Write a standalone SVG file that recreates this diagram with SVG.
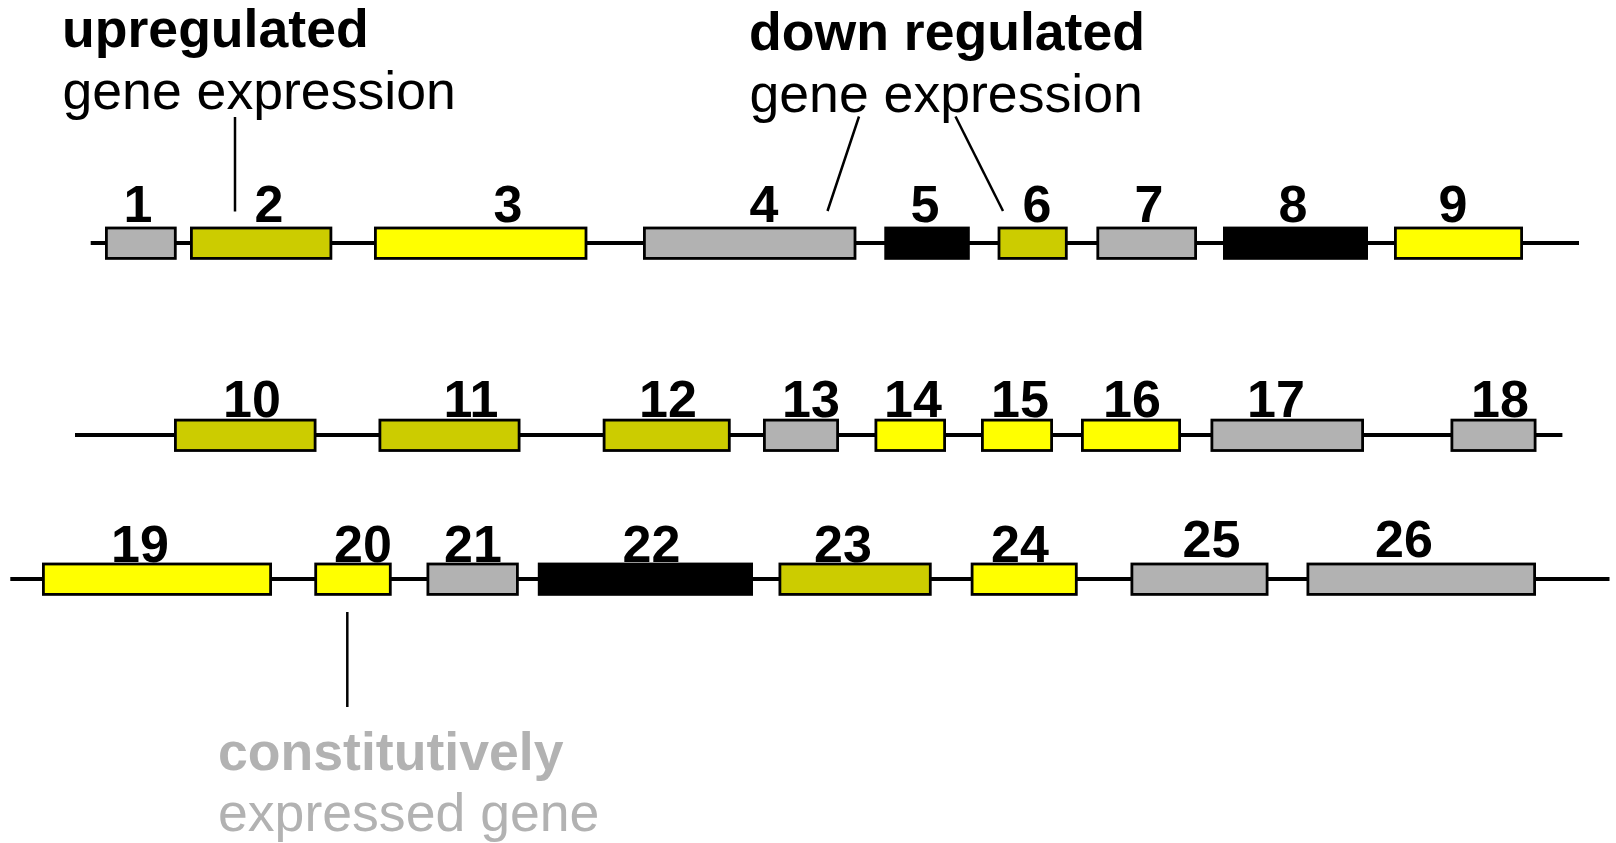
<svg xmlns="http://www.w3.org/2000/svg" width="1616" height="843" viewBox="0 0 1616 843">
  <style>
    .bg { fill: #ffffff; }
    .track { stroke: #000000; stroke-width: 4; fill: none; }
    .gene { stroke: #000000; stroke-width: 2.8; }
    .grey { fill: #b2b2b2; }
    .olive { fill: #cccc00; }
    .yellow { fill: #ffff00; }
    .black { fill: #000000; }
    .num { font-family: "Liberation Sans", Arial, sans-serif; font-weight: bold; font-size: 52px; fill: #000000; text-anchor: middle; }
    .title { font-family: "Liberation Sans", Arial, sans-serif; font-weight: bold; font-size: 53.6px; fill: #000000; }
    .sub { font-family: "Liberation Sans", Arial, sans-serif; font-size: 53.6px; fill: #000000; }
    .muted { fill: #b2b2b2; }
    .pointer { stroke: #000000; stroke-width: 2.5; fill: none; }
  </style>
  <rect class="bg" x="0" y="0" width="1616" height="843"/>

  <!-- chromosome tracks -->
  <g id="tracks">
    <line class="track" x1="90.7" y1="243" x2="1579" y2="243"/>
    <line class="track" x1="75" y1="435" x2="1562.4" y2="435"/>
    <line class="track" x1="10.3" y1="579" x2="1609.5" y2="579"/>
  </g>

  <!-- legend labels -->
  <g id="label-up">
    <text class="title" x="62" y="46.5">upregulated</text>
    <text class="sub" x="62.5" y="108.5">gene expression</text>
  </g>
  <g id="label-down">
    <text class="title" x="749" y="49.5">down regulated</text>
    <text class="sub" x="749.5" y="111.5">gene expression</text>
  </g>
  <g id="label-const">
    <text class="title muted" x="218" y="770">constitutively</text>
    <text class="sub muted" x="218" y="831">expressed gene</text>
  </g>

  <!-- pointer lines from labels to genes -->
  <g id="connectors">
    <line class="pointer" x1="235" y1="117" x2="235" y2="211.5"/>
    <line class="pointer" x1="859" y1="116.5" x2="827.5" y2="211"/>
    <line class="pointer" x1="955.5" y1="116.5" x2="1003" y2="211"/>
    <line class="pointer" x1="347.3" y1="612" x2="347.3" y2="707"/>
  </g>

  <!-- row 1 -->
  <g id="gene-1"><rect class="gene grey" x="106.4" y="228" width="68.9" height="30.4"/><text class="num" x="138" y="221.7">1</text></g>
  <g id="gene-2"><rect class="gene olive" x="191.4" y="228" width="139.5" height="30.4"/><text class="num" x="269" y="221.7">2</text></g>
  <g id="gene-3"><rect class="gene yellow" x="375.4" y="228" width="210.6" height="30.4"/><text class="num" x="508" y="221.7">3</text></g>
  <g id="gene-4"><rect class="gene grey" x="644.4" y="228" width="210.6" height="30.4"/><text class="num" x="764" y="221.7">4</text></g>
  <g id="gene-5"><rect class="gene black" x="885.7" y="228" width="82.7" height="30.4"/><text class="num" x="925" y="221.7">5</text></g>
  <g id="gene-6"><rect class="gene olive" x="999" y="228" width="67.3" height="30.4"/><text class="num" x="1037" y="221.7">6</text></g>
  <g id="gene-7"><rect class="gene grey" x="1097.8" y="228" width="97.8" height="30.4"/><text class="num" x="1149" y="221.7">7</text></g>
  <g id="gene-8"><rect class="gene black" x="1224.4" y="228" width="142.2" height="30.4"/><text class="num" x="1293" y="221.7">8</text></g>
  <g id="gene-9"><rect class="gene yellow" x="1395.4" y="228" width="126.2" height="30.4"/><text class="num" x="1453" y="221.7">9</text></g>

  <!-- row 2 -->
  <g id="gene-10"><rect class="gene olive" x="175.4" y="420.1" width="139.7" height="30.4"/><text class="num" x="252" y="416.7">10</text></g>
  <g id="gene-11"><rect class="gene olive" x="379.9" y="420.1" width="139.2" height="30.4"/><text class="num" x="471" y="416.7">11</text></g>
  <g id="gene-12"><rect class="gene olive" x="604.1" y="420.1" width="125.2" height="30.4"/><text class="num" x="668" y="416.7">12</text></g>
  <g id="gene-13"><rect class="gene grey" x="764.4" y="420.1" width="73.2" height="30.4"/><text class="num" x="811" y="416.7">13</text></g>
  <g id="gene-14"><rect class="gene yellow" x="875.9" y="420.1" width="68.7" height="30.4"/><text class="num" x="913" y="416.7">14</text></g>
  <g id="gene-15"><rect class="gene yellow" x="982.4" y="420.1" width="69.2" height="30.4"/><text class="num" x="1020" y="416.7">15</text></g>
  <g id="gene-16"><rect class="gene yellow" x="1082.4" y="420.1" width="97.2" height="30.4"/><text class="num" x="1132" y="416.7">16</text></g>
  <g id="gene-17"><rect class="gene grey" x="1211.9" y="420.1" width="150.7" height="30.4"/><text class="num" x="1276" y="416.7">17</text></g>
  <g id="gene-18"><rect class="gene grey" x="1451.9" y="420.1" width="83.2" height="30.4"/><text class="num" x="1500" y="416.7">18</text></g>

  <!-- row 3 -->
  <g id="gene-19"><rect class="gene yellow" x="43.4" y="564" width="227.2" height="30.4"/><text class="num" x="140" y="561.7">19</text></g>
  <g id="gene-20"><rect class="gene yellow" x="315.7" y="564" width="74.6" height="30.4"/><text class="num" x="363" y="561.7">20</text></g>
  <g id="gene-21"><rect class="gene grey" x="427.9" y="564" width="89.5" height="30.4"/><text class="num" x="473" y="561.7">21</text></g>
  <g id="gene-22"><rect class="gene black" x="539.2" y="564" width="212.4" height="30.4"/><text class="num" x="651.5" y="561.7">22</text></g>
  <g id="gene-23"><rect class="gene olive" x="779.9" y="564" width="150.4" height="30.4"/><text class="num" x="843" y="561.7">23</text></g>
  <g id="gene-24"><rect class="gene yellow" x="972.1" y="564" width="104.2" height="30.4"/><text class="num" x="1020" y="561.7">24</text></g>
  <g id="gene-25"><rect class="gene grey" x="1131.9" y="564" width="135.2" height="30.4"/><text class="num" x="1211.5" y="557">25</text></g>
  <g id="gene-26"><rect class="gene grey" x="1307.9" y="564" width="226.7" height="30.4"/><text class="num" x="1404" y="557">26</text></g>
</svg>
